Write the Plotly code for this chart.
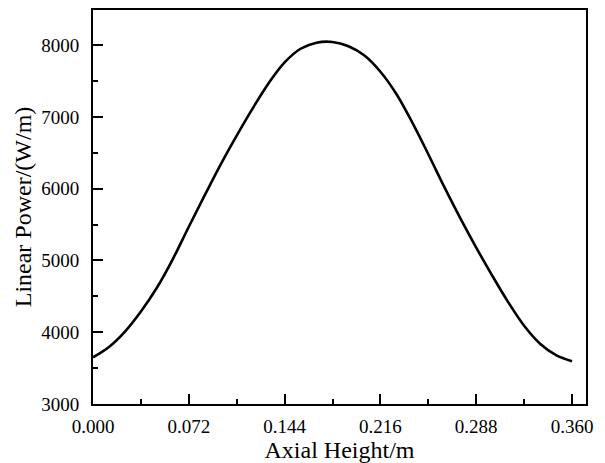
import plotly.graph_objects as go

height_m = [0.000, 0.012, 0.024, 0.036, 0.048, 0.060, 0.072, 0.084, 0.096, 0.108,
            0.120, 0.132, 0.144, 0.156, 0.168, 0.180, 0.192, 0.204, 0.216, 0.228,
            0.240, 0.252, 0.264, 0.276, 0.288, 0.300, 0.312, 0.324, 0.336, 0.348, 0.360]
linear_power = [3650, 3795, 4010, 4290, 4620, 5020, 5470, 5910, 6340, 6740,
                7120, 7470, 7760, 7950, 8035, 8045, 7985, 7855, 7630, 7320,
                6920, 6480, 6025, 5590, 5180, 4790, 4420, 4090, 3840, 3680, 3595]

x_ticks = [0.000, 0.072, 0.144, 0.216, 0.288, 0.360]
x_tick_labels = ["0.000", "0.072", "0.144", "0.216", "0.288", "0.360"]
y_ticks = [3000, 4000, 5000, 6000, 7000, 8000]

fig = go.Figure()
fig.add_trace(go.Scatter(x=height_m, y=linear_power, mode="lines",
                         line=dict(color="black", width=2.6, shape="spline", smoothing=1.0),
                         showlegend=False))

font_family = "Liberation Serif, Times New Roman, serif"
fig.update_layout(
    width=605, height=463,
    margin=dict(l=93, r=19, t=8, b=59),
    paper_bgcolor="white", plot_bgcolor="white",
    font=dict(family=font_family, color="black", size=19),
)
fig.update_xaxes(
    range=[0, 0.3705], tickvals=x_ticks, ticktext=x_tick_labels,
    ticks="inside", ticklen=10, tickwidth=2, tickcolor="black",
    minor=dict(dtick=0.036, tick0=0, ticks="inside", ticklen=5, tickwidth=2, tickcolor="black"),
    showline=True, linewidth=2, linecolor="black", mirror=True,
    showgrid=False, zeroline=False,
    tickfont=dict(size=19), ticklabelstandoff=4,
    title=dict(text="Axial Height/m", font=dict(size=24), standoff=0),
)
fig.update_yaxes(
    range=[3000, 8490], tickvals=y_ticks,
    ticks="inside", ticklen=10, tickwidth=2, tickcolor="black",
    minor=dict(dtick=500, tick0=3000, ticks="inside", ticklen=5, tickwidth=2, tickcolor="black"),
    showline=True, linewidth=2, linecolor="black", mirror=True,
    showgrid=False, zeroline=False,
    tickfont=dict(size=19), ticklabelstandoff=8,
    title=dict(text="Linear Power/(W/m)", font=dict(size=24), standoff=3),
)

fig.write_html("out.html", config={"displayModeBar": False},
               post_script="document.body.style.margin='0';")
